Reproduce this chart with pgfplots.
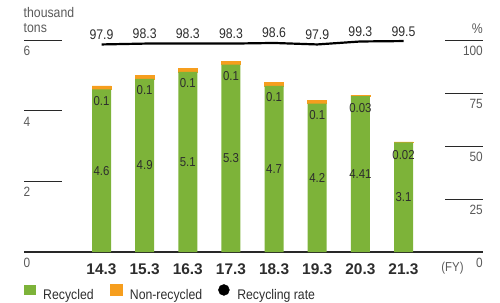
\documentclass[border=0pt]{standalone}
\usepackage{pgfplots}
\usepackage{pgfplotstable}
\pgfplotsset{compat=1.18}
\usepackage{fontspec}
\setmainfont{Liberation Sans}[FakeStretch=0.88]
\newfontfamily\tickfont{Liberation Sans}
\definecolor{recgreen}{RGB}{125,179,57}
\definecolor{nrorange}{RGB}{246,158,30}
\definecolor{txtgray}{RGB}{90,90,90}
\definecolor{darktxt}{RGB}{45,45,45}
\definecolor{linegray}{RGB}{40,40,40}

\pgfplotstableread{
x rec nonrec rate
0 4.6 0.1 97.9
1 4.9 0.1 98.3
2 5.1 0.1 98.3
3 5.3 0.1 98.3
4 4.7 0.1 98.6
5 4.2 0.1 97.9
6 4.41 0.03 99.3
7 3.1 0.02 99.5
}\datatable

\begin{document}
\begin{tikzpicture}[x=1bp,y=1bp]
\useasboundingbox (0,0) rectangle (500,302);
\node[anchor=base west, inner sep=0, text=txtgray, font=\fontsize{14}{16}\selectfont] at (23.5,284.7) {thousand};
\node[anchor=base west, inner sep=0, text=txtgray, font=\fontsize{14}{16}\selectfont] at (23.5,269.7) {tons};
\node[anchor=base east, inner sep=0, text=txtgray, font=\fontsize{14}{16}\selectfont] at (483,268.7) {\%};
\node[anchor=base, inner sep=0, text=txtgray, font=\fontsize{13}{15}\selectfont] at (452.5,30.5) {(FY)};

% decorations (axis box: x 24..483, y 50..262)
\draw[linegray, line width=1.3bp] (24,50) -- (483,50);
\foreach \yy in {120.667,191.333,262} {
  \draw[linegray, line width=0.9bp] (24,\yy) -- (62,\yy);
}
\foreach \yy in {103,156,209,262} {
  \draw[linegray, line width=0.9bp] (445,\yy) -- (483,\yy);
}
\foreach \yy/\lab in {50/0,120.667/2,191.333/4,262/6} {
  \node[anchor=base west, inner sep=0, text=txtgray, font=\fontsize{13.5}{16}\selectfont] at (23.5,\yy-15.5) {\lab};
}
\foreach \yy/\lab in {50/0,103/25,156/50,209/75,262/100} {
  \node[anchor=base east, inner sep=0, text=txtgray, font=\fontsize{13.5}{16}\selectfont] at (483,\yy-15.2) {\lab};
}

\begin{axis}[
  at={(24bp,50bp)}, anchor=south west,
  scale only axis, width=459bp, height=212bp,
  xmin=-1.797, xmax=8.843, ymin=0, ymax=6,
  clip=false,
  axis line style={draw=none},
  ytick=\empty,
  xtick={0,...,7},
  xticklabels={14.3,15.3,16.3,17.3,18.3,19.3,20.3,21.3},
  major tick length=0pt,
  xticklabel style={anchor=base, yshift=-22bp, inner sep=0pt, text=darktxt,
    font=\tickfont\fontsize{15.5}{18}\selectfont\bfseries},
  ybar stacked, bar width=19bp,
  legend columns=3,
  legend cell align=left,
  legend style={at={(-0.0015,-0.1915)}, anchor=west, draw=none, fill=none,
    inner sep=0pt, font=\fontsize{14}{16}\selectfont, text=darktxt,
    nodes={inner sep=0pt},
    /tikz/every odd column/.append style={column sep=7.7bp},
    /tikz/every even column/.append style={column sep=16bp}},
]
\addplot[fill=recgreen, draw=none,
  legend image code/.code={\fill[recgreen] (0bp,0bp) rectangle (12bp,10.5bp);}]
  table[x=x, y=rec] {\datatable};
\addlegendentry{Recycled}
\addplot[fill=nrorange, draw=nrorange, line width=0.5bp,
  legend image code/.code={\fill[nrorange] (0bp,0bp) rectangle (12bp,10.5bp);},
  nodes near coords, point meta=explicit symbolic,
  every node near coord/.append style={anchor=base, inner sep=0pt, yshift=-17.3bp,
    text=darktxt, font=\fontsize{13}{15}\selectfont}]
  table[x=x, y=nonrec, meta=nonrec] {\datatable};
\addlegendentry{Non-recycled}
\addlegendimage{legend image code/.code={\fill[black] (5.5bp,5.2bp) circle (5.5bp);}}
\addlegendentry{Recycling rate}
\end{axis}

% labels at the middle of the green segments
\begin{axis}[
  at={(24bp,50bp)}, anchor=south west,
  scale only axis, width=459bp, height=212bp,
  xmin=-1.797, xmax=8.843, ymin=0, ymax=6,
  clip=false, hide axis,
]
\addplot[draw=none, no markers,
  nodes near coords, point meta=explicit symbolic,
  every node near coord/.append style={anchor=center, inner sep=0pt,
    text=darktxt, font=\fontsize{13}{15}\selectfont}]
  table[x=x, y expr=\thisrow{rec}/2, meta=rec] {\datatable};
\end{axis}

\begin{axis}[
  at={(24bp,50bp)}, anchor=south west,
  scale only axis, width=459bp, height=212bp,
  xmin=-1.797, xmax=8.843, ymin=0, ymax=100,
  clip=false, hide axis,
]
\addplot[black, line width=2.2bp, no markers,
  nodes near coords, point meta=explicit symbolic,
  every node near coord/.append style={anchor=base, inner sep=0pt, yshift=5bp,
    text=darktxt, font=\fontsize{14}{16}\selectfont}]
  table[x=x, y=rate, meta=rate] {\datatable};
\end{axis}
\end{tikzpicture}
\end{document}
